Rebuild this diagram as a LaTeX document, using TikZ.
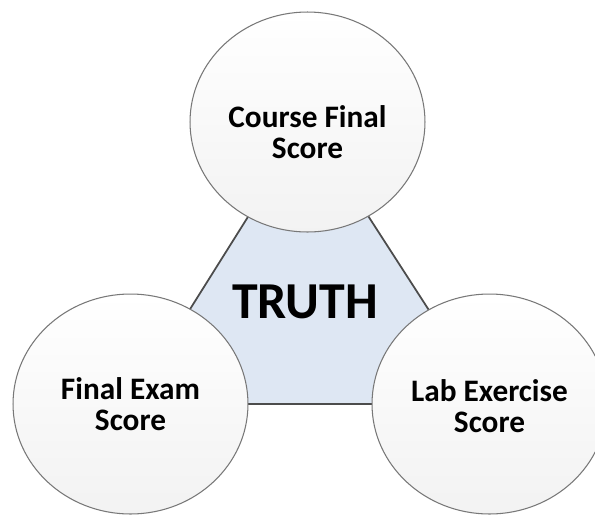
\documentclass[tikz,border=0pt]{standalone}
\usepackage{fontspec}
\setmainfont{Carlito}
\usetikzlibrary{shapes.geometric,backgrounds}

\definecolor{paleblue}{RGB}{222,231,243}
\definecolor{rimgray}{RGB}{120,120,120}

\begin{document}
\begin{tikzpicture}[
    x=0.02cm, y=-0.02cm,
    score/.style={ellipse, draw=rimgray, line width=0.6pt, top color=white, bottom color=gray!10, minimum width=4.7cm, minimum height=4.4cm, inner sep=0pt},
    caption/.style={align=center, font=\bfseries\fontsize{17.8}{17.6}\selectfont},
    truth/.style={font=\bfseries\fontsize{29.5}{29.5}\selectfont},
    core/.style={draw=black!70, line width=1pt, fill=paleblue}
]

\useasboundingbox (0,0) rectangle (595,521);
\clip (0,0) rectangle (595,521);

% Score circles
\node[score] (course) at (307.5,122) {};
\node[score] (exam) at (130.5,404) {};
\node[score] (lab) at (489.5,404) {};

% Their captions
\node[caption, yshift=-0.2cm] (coursetxt) at (course) {Course Final\\Score};
\node[caption] (examtxt) at (exam) {Final Exam\\Score};
\node[caption, yshift=-0.05cm] (labtxt) at (lab) {Lab Exercise\\Score};

% Centre
\node[truth] (truth) at (305,302) {TRUTH};

% Triangle between the circles
\begin{scope}[on background layer]
\fill[white] (0,0) rectangle (595,521);
\draw[core] (course.center) -- (exam.center) -- (lab.center) -- cycle;
\end{scope}

\end{tikzpicture}
\end{document}
